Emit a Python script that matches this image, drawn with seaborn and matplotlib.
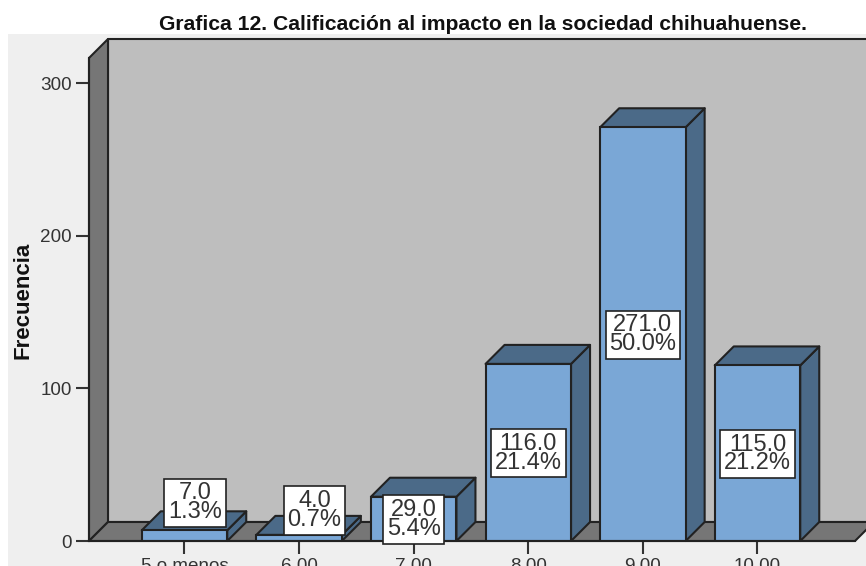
import matplotlib
matplotlib.use("Agg")
import matplotlib.pyplot as plt
from matplotlib.patches import Polygon, Rectangle
import pandas as pd
import seaborn as sns

categories = ["5 o menos", "6.00", "7.00", "8.00", "9.00", "10.00"]
frequencies = [7, 4, 29, 116, 271, 115]
percentages = [1.3, 0.7, 5.4, 21.4, 50.0, 21.2]
y_ticks = [0, 100, 200, 300]
title = "Grafica 12. Calificación al impacto en la sociedad chihuahuense."
y_label = "Frecuencia"

# layout (pixels -> data)
label_dx = [0.09, 0.135, 0.0, 0.0, 0.0, 0.0]
label_y = [25, 20, 14, 57.5, 135, 57]

sns.set_style("white")
plt.rcParams["font.family"] = ["Liberation Sans", "DejaVu Sans"]

W, H = 866, 566
fig = plt.figure(figsize=(W / 100, H / 100), dpi=100, facecolor="white")
fig.patches.append(Rectangle((8 / W, 0), (W - 8) / W, (H - 34) / H, transform=fig.transFigure,
                             facecolor="#efefef", edgecolor="none", zorder=-5))
L, R, B, T = 89, 855, 541, 58
ax = fig.add_axes([L / W, (H - B) / H, (R - L) / W, (B - T) / H])
ax.patch.set_alpha(0)

PX_X = 114.6
PX_Y = 458 / 300
xmin = -(184.5 - L) / PX_X
xmax = xmin + (R - L) / PX_X
ymax = (B - T) / PX_Y
dx = 19 / PX_X
dy = 19 / PX_Y
EDGE = "#222222"
FRONT, DARK = "#7aa7d6", "#4b6a88"
WALL, BACK = "#767676", "#bebebe"
LW = 1.5

df = pd.DataFrame({"cat": categories, "freq": frequencies})
BW = 0.746
sns.barplot(data=df, x="cat", y="freq", order=categories, color=FRONT, saturation=1,
            width=BW, edgecolor=EDGE, linewidth=LW, zorder=5, ax=ax)
ax.set_xlim(xmin, xmax)
ax.set_ylim(0, ymax)


def poly(pts, fc, z):
    ax.add_patch(Polygon(pts, closed=True, facecolor=fc, edgecolor=EDGE, linewidth=LW,
                         clip_on=False, zorder=z, joinstyle="round"))


far = xmax + 1
poly([(xmin + dx, dy), (far, dy), (far, ymax + dy), (xmin + dx, ymax + dy)], BACK, 1)
poly([(xmin, 0), (xmin + dx, dy), (xmin + dx, ymax + dy), (xmin, ymax)], WALL, 2)
poly([(xmin, 0), (xmax, 0), (xmax + dx, dy), (xmin + dx, dy)], WALL, 2)

for i, v in enumerate(frequencies):
    l, r = i - BW / 2, i + BW / 2
    poly([(r, 0), (r + dx, dy), (r + dx, v + dy), (r, v)], DARK, 4)
    poly([(l, v), (r, v), (r + dx, v + dy), (l + dx, v + dy)], DARK, 4)
    ax.text(i + label_dx[i], label_y[i], f"{v:.1f}\n{percentages[i]:.1f}%", ha="center", va="center",
            ma="center", fontsize=17, color="#333333", linespacing=0.82, zorder=8,
            bbox=dict(boxstyle="square,pad=0.16", facecolor="white", edgecolor=EDGE, linewidth=1.2))

for s in ["top", "right"]:
    ax.spines[s].set_visible(False)
for s in ["left", "bottom"]:
    ax.spines[s].set_color(EDGE)
    ax.spines[s].set_linewidth(LW)
    ax.spines[s].set_zorder(6)

ax.set_yticks(y_ticks)
ax.set_yticklabels([str(t) for t in y_ticks])
ax.tick_params(axis="both", which="major", length=9.4, width=1.5, color="#333333",
               labelcolor="#333333", labelsize=13.6, left=True, bottom=True, pad=3)
ax.set_xlabel("")
ax.set_ylabel(y_label, fontsize=16, fontweight="bold", color="#111111")
ax.yaxis.set_label_coords((33 - L) / (R - L), 0.499)

fig.text(483 / W, (H - 25) / H, title, ha="center", va="center", fontsize=15.2, fontweight="bold", color="#111111")
fig.savefig("out.png", dpi=100, facecolor="white")
